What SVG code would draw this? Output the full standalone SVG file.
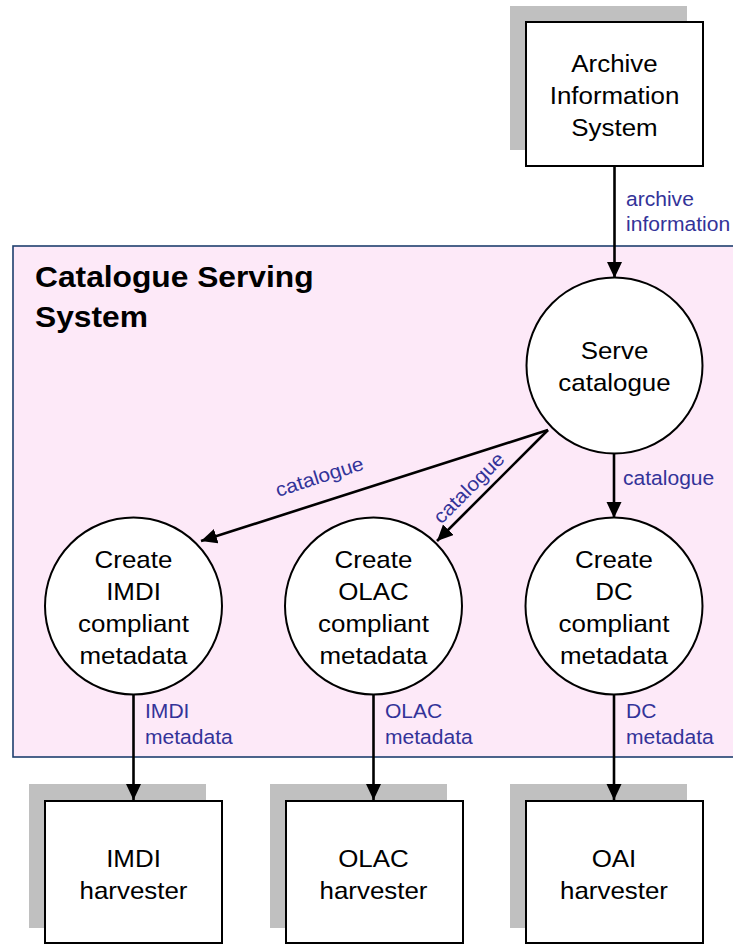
<svg xmlns="http://www.w3.org/2000/svg" width="733" height="945" viewBox="0 0 733 945">
  <defs>
    <marker id="arrow" markerUnits="userSpaceOnUse" markerWidth="17" markerHeight="16" refX="16" refY="7.5" orient="auto">
      <path d="M0,0 L16,7.5 L0,15 Z" fill="#000"/>
    </marker>
    <style>
      .shadow { fill: #c0c0c0; }
      .box { fill: #fff; stroke: #000; stroke-width: 2; }
      .proc { fill: #fff; stroke: #000; stroke-width: 2; }
      .cluster { fill: #fde9f8; stroke: #1f3f6e; stroke-width: 1.6; }
      .node-text { font-family: "Liberation Sans", Arial, sans-serif; font-size: 24px; fill: #000; text-anchor: middle; }
      .title { font-family: "Liberation Sans", Arial, sans-serif; font-size: 29.4px; font-weight: bold; fill: #000; }
      .label { font-family: "Liberation Sans", Arial, sans-serif; font-size: 19.5px; fill: #333399; }
      .edge { stroke: #000; stroke-width: 2.6; fill: none; marker-end: url(#arrow); }
    </style>
  </defs>

  <!-- System boundary -->
  <g id="catalogue-serving-system">
    <rect class="cluster" x="13" y="246" width="730" height="511"/>
    <text class="title" transform="matrix(1.08 0 0 1 35 287)"><tspan x="0" y="0">Catalogue Serving</tspan><tspan x="0" y="40">System</tspan></text>
  </g>

  <!-- External source -->
  <g id="archive-information-system">
    <rect class="shadow" x="510" y="6" width="177" height="144"/>
    <rect class="box" x="526" y="22" width="177" height="144"/>
    <text class="node-text" transform="matrix(1.08 0 0 1 614.5 72)"><tspan x="0" y="0">Archive</tspan><tspan x="0" y="32">Information</tspan><tspan x="0" y="64">System</tspan></text>
  </g>

  <!-- Processes -->
  <g id="serve-catalogue">
    <circle class="proc" cx="614.5" cy="365.5" r="88"/>
    <text class="node-text" transform="matrix(1.08 0 0 1 614.5 359)"><tspan x="0" y="0">Serve</tspan><tspan x="0" y="32">catalogue</tspan></text>
  </g>
  <g id="create-imdi">
    <circle class="proc" cx="133.5" cy="606" r="88.5"/>
    <text class="node-text" transform="matrix(1.08 0 0 1 133.5 568)"><tspan x="0" y="0">Create</tspan><tspan x="0" y="32">IMDI</tspan><tspan x="0" y="64">compliant</tspan><tspan x="0" y="96">metadata</tspan></text>
  </g>
  <g id="create-olac">
    <circle class="proc" cx="373.5" cy="606" r="88.5"/>
    <text class="node-text" transform="matrix(1.08 0 0 1 373.5 568)"><tspan x="0" y="0">Create</tspan><tspan x="0" y="32">OLAC</tspan><tspan x="0" y="64">compliant</tspan><tspan x="0" y="96">metadata</tspan></text>
  </g>
  <g id="create-dc">
    <circle class="proc" cx="614" cy="606" r="88.5"/>
    <text class="node-text" transform="matrix(1.08 0 0 1 614 568)"><tspan x="0" y="0">Create</tspan><tspan x="0" y="32">DC</tspan><tspan x="0" y="64">compliant</tspan><tspan x="0" y="96">metadata</tspan></text>
  </g>

  <!-- Harvesters -->
  <g id="imdi-harvester">
    <rect class="shadow" x="29" y="784" width="177" height="144"/>
    <rect class="box" x="45" y="801" width="177" height="142"/>
    <text class="node-text" transform="matrix(1.08 0 0 1 133.5 867)"><tspan x="0" y="0">IMDI</tspan><tspan x="0" y="32">harvester</tspan></text>
  </g>
  <g id="olac-harvester">
    <rect class="shadow" x="270" y="784" width="177" height="144"/>
    <rect class="box" x="286" y="801" width="177" height="142"/>
    <text class="node-text" transform="matrix(1.08 0 0 1 373.5 867)"><tspan x="0" y="0">OLAC</tspan><tspan x="0" y="32">harvester</tspan></text>
  </g>
  <g id="oai-harvester">
    <rect class="shadow" x="510" y="784" width="177" height="144"/>
    <rect class="box" x="526" y="801" width="177" height="142"/>
    <text class="node-text" transform="matrix(1.08 0 0 1 614 867)"><tspan x="0" y="0">OAI</tspan><tspan x="0" y="32">harvester</tspan></text>
  </g>

  <!-- Data flows -->
  <g id="connectors">
    <line class="edge" x1="614.5" y1="167" x2="614.5" y2="278"/>
    <line class="edge" x1="548" y1="430" x2="201" y2="541"/>
    <line class="edge" x1="548" y1="430" x2="437" y2="541"/>
    <line class="edge" x1="614" y1="454" x2="614" y2="518"/>
    <line class="edge" x1="133.5" y1="694" x2="133.5" y2="800"/>
    <line class="edge" x1="373.5" y1="694" x2="373.5" y2="800"/>
    <line class="edge" x1="614" y1="694" x2="614" y2="800"/>

    <text class="label" transform="matrix(1.08 0 0 1 626 206)"><tspan x="0" y="0">archive</tspan><tspan x="0" y="25">information</tspan></text>
    <text class="label" text-anchor="middle" transform="translate(321.5 483) rotate(-17.7) scale(1.08 1)">catalogue</text>
    <text class="label" text-anchor="middle" transform="translate(473.5 492.5) rotate(-45) scale(1.08 1)">catalogue</text>
    <text class="label" transform="matrix(1.08 0 0 1 623 485)">catalogue</text>
    <text class="label" transform="matrix(1.08 0 0 1 145 718)"><tspan x="0" y="0">IMDI</tspan><tspan x="0" y="26">metadata</tspan></text>
    <text class="label" transform="matrix(1.08 0 0 1 385 718)"><tspan x="0" y="0">OLAC</tspan><tspan x="0" y="26">metadata</tspan></text>
    <text class="label" transform="matrix(1.08 0 0 1 626 718)"><tspan x="0" y="0">DC</tspan><tspan x="0" y="26">metadata</tspan></text>
  </g>
</svg>
